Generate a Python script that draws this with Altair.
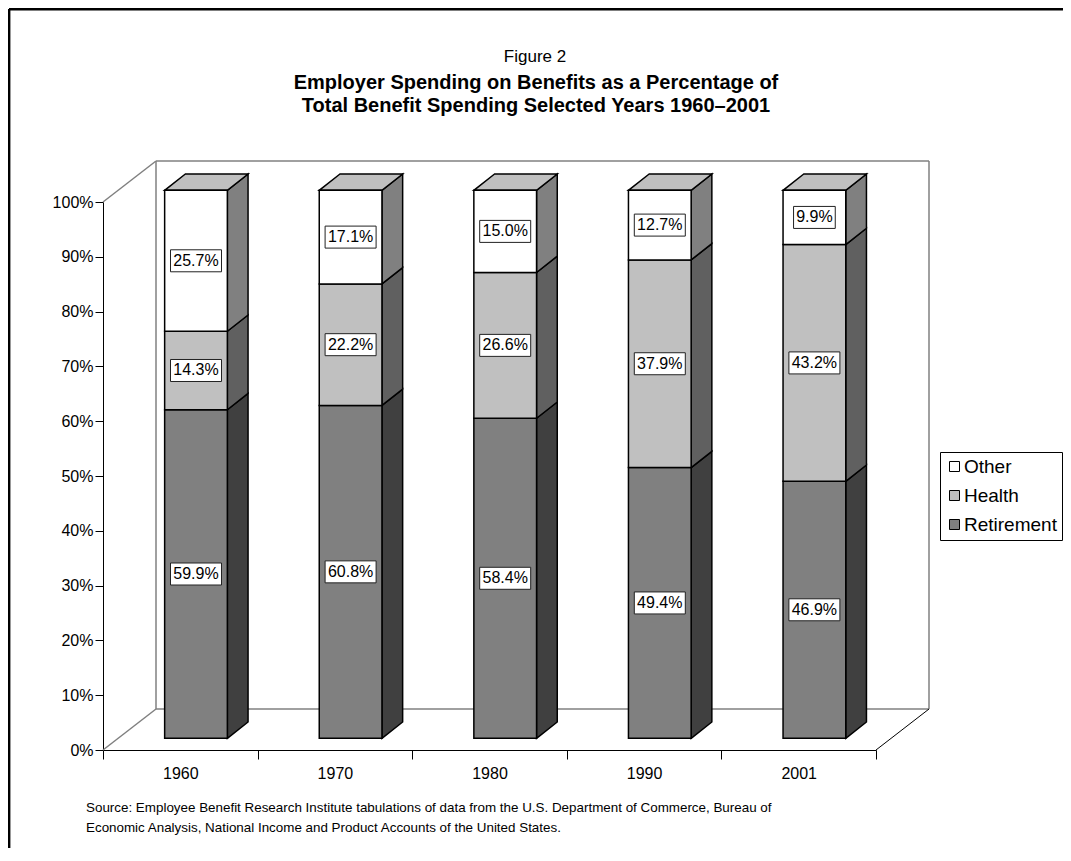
import altair as alt
import pandas as pd
import json

# ---------------- data ----------------
years = ["1960", "1970", "1980", "1990", "2001"]
segments = ["Retirement", "Health", "Other"]          # bottom -> top
retirement = [59.9, 60.8, 58.4, 49.4, 46.9]
health = [14.3, 22.2, 26.6, 37.9, 43.2]
other = [25.7, 17.1, 15.0, 12.7, 9.9]
y_ticks = list(range(0, 101, 10))
legend_order = ["Other", "Health", "Retirement"]
title_lines = [
    "Figure 2",
    "Employer Spending on Benefits as a Percentage of",
    "Total Benefit Spending Selected Years 1960\u20132001",
]
source_lines = [
    "Source: Employee Benefit Research Institute tabulations of data from the U.S. Department of Commerce, Bureau of",
    "Economic Analysis, National Income and Product Accounts of the United States.",
]

# ---------------- geometry (pixels -> data units) ----------------
W, H = 773, 548
N = len(years)
PXX = W / N          # px per category
PXY = H / 100.0      # px per percent
FX, FY = 15.7 / PXX, 11.7 / PXY      # front face shift (depth position)
HALF = 31.35 / PXX                    # half width of bar front
BX, BY = 20.7 / PXX, 16.3 / PXY       # bar depth
WX, WY = 53.0 / PXX, 41.0 / PXY       # wall depth

FONT = "Liberation Sans"
front_colors = {"Other": "#ffffff", "Health": "#c0c0c0", "Retirement": "#808080"}
side_colors = {"Other": "#808080", "Health": "#606060", "Retirement": "#404040"}

series = {"Retirement": retirement, "Health": health, "Other": other}

front_rows, side_rows, top_rows = [], [], []
for i, yr in enumerate(years):
    vals = [series[s][i] for s in segments]
    total = sum(vals)
    lo = 0.0
    c = i + 0.5 + FX
    xl, xr = c - HALF, c + HALF
    for s, v in zip(segments, vals):
        hi = lo + v / total * 100.0
        label = f"{v:.1f}%"
        bw = (9.3 * len(label) + 4.5) / PXX
        bh = 22.0 / PXY
        ym = (lo + hi) / 2 + FY
        front_rows.append(dict(year=yr, segment=s, x=xl, x2=xr, y=lo + FY, y2=hi + FY,
                               label=label, cx=c, cy=ym,
                               bx0=c - bw / 2, bx1=c + bw / 2, by0=ym - bh / 2, by1=ym + bh / 2))
        gid = f"{yr}-{s}"
        side_rows.append(dict(gid=gid, segment=s, x=xr, y=lo + FY, y2=hi + FY))
        side_rows.append(dict(gid=gid, segment=s, x=xr + BX, y=lo + FY + BY, y2=hi + FY + BY))
        lo = hi
    top_rows.append(dict(year=yr, y=lo + FY, x=xl, x2=xr))
    top_rows.append(dict(year=yr, y=lo + FY + BY, x=xl + BX, x2=xr + BX))

front = pd.DataFrame(front_rows)
sides = pd.DataFrame(side_rows)
tops = pd.DataFrame(top_rows)

walls_gray = pd.DataFrame([
    dict(x=0, y=100, x2=WX, y2=100 + WY),
    dict(x=WX, y=100 + WY, x2=N + WX, y2=100 + WY),
    dict(x=N + WX, y=100 + WY, x2=N + WX, y2=WY),
    dict(x=WX, y=WY, x2=N + WX, y2=WY),
    dict(x=WX, y=WY, x2=WX, y2=100 + WY),
    dict(x=0, y=0, x2=WX, y2=WY),
])
walls_black = pd.DataFrame([dict(x=N, y=0, x2=N + WX, y2=WY)])

xs = alt.Scale(domain=[0, N], nice=False, zero=False)
ys = alt.Scale(domain=[0, 100], nice=False, zero=False)

x_vals = [k * 0.5 for k in range(2 * N + 1)]
x_label_expr = "datum.value % 1 == 0.5 ? " + json.dumps(years) + "[floor(datum.value)] : ''"

x_axis = alt.Axis(values=x_vals, labelExpr=x_label_expr, title=None, grid=False,
                  tickSize=9, labelPadding=6, labelFontSize=16, labelFont=FONT,
                  labelColor="black", domainColor="black", tickColor="black",
                  labelOverlap=False, labelFlush=False, labelBound=False,
                  tickOpacity={"condition": {"test": "datum.value % 1 != 0", "value": 0}, "value": 1})
y_axis = alt.Axis(values=y_ticks, labelExpr="datum.value + '%'", title=None, grid=False,
                  tickSize=8, labelPadding=2, labelFontSize=16, labelFont=FONT,
                  labelColor="black", domainColor="black", tickColor="black",
                  labelOverlap=False, labelFlush=False)


def X(field, **kw):
    return alt.X(field, scale=xs, axis=x_axis, **kw)


def Y(field, **kw):
    return alt.Y(field, scale=ys, axis=y_axis, **kw)


side_expr = json.dumps(side_colors) + "[datum.segment]"

# walls
wall_g = alt.Chart(walls_gray).mark_rule(color="#808080", strokeWidth=1.5).encode(
    x=X("x:Q"), y=Y("y:Q"), x2="x2:Q", y2="y2:Q")
wall_b = alt.Chart(walls_black).mark_rule(color="black", strokeWidth=1).encode(
    x=X("x:Q"), y=Y("y:Q"), x2="x2:Q", y2="y2:Q")

# side faces
side_layer = alt.Chart(sides).transform_calculate(sidefill=side_expr).mark_area(
    orient="vertical", stroke="black", strokeWidth=1.5, opacity=1, strokeJoin="miter").encode(
    x=X("x:Q"),
    y=Y("y:Q", stack=None),
    y2="y2:Q",
    detail="gid:N",
    fill=alt.Fill("sidefill:N", scale=None),
)

# top faces
top_layer = alt.Chart(tops).mark_area(orient="horizontal", stroke="black", strokeWidth=1.5,
                                      fill="#c0c0c0", opacity=1, strokeJoin="miter").encode(
    y=Y("y:Q"),
    x=X("x:Q", stack=None),
    x2="x2:Q",
    detail="year:N",
)

# front faces
front_layer = alt.Chart(front).mark_rect(stroke="black", strokeWidth=1.5, opacity=1).encode(
    x=X("x:Q"), x2="x2:Q",
    y=Y("y:Q"), y2="y2:Q",
    color=alt.Color("segment:N",
                    scale=alt.Scale(domain=legend_order, range=[front_colors[s] for s in legend_order]),
                    legend=alt.Legend(title=None, orient="none", legendX=837, legendY=250,
                                      symbolType="square", symbolSize=100,
                                      symbolStrokeColor="black", symbolStrokeWidth=1,
                                      labelFontSize=19, labelFont=FONT, labelColor="black",
                                      labelOffset=0, rowPadding=9, padding=5,
                                      strokeColor="black", fillColor="white")),
)

# label boxes + text
box_layer = alt.Chart(front).mark_rect(fill="white", stroke="#222222", strokeWidth=1).encode(
    x=X("bx0:Q"), x2="bx1:Q",
    y=Y("by0:Q"), y2="by1:Q",
)
text_layer = alt.Chart(front).mark_text(font=FONT, fontSize=16, color="black",
                                        align="center", baseline="middle").encode(
    x=X("cx:Q"),
    y=Y("cy:Q"),
    text="label:N",
)


def free_text(txt, px, py, size, weight="normal", align="center"):
    return alt.Chart(pd.DataFrame({"t": [txt]})).mark_text(
        font=FONT, fontSize=size, fontWeight=weight, color="black",
        align=align, baseline="alphabetic").encode(
        text="t:N", x=alt.value(px - 103), y=alt.value(py - 202))


t0 = free_text(title_lines[0], 535, 62, 17)
t1 = free_text(title_lines[1], 536, 89, 20, "bold")
t2 = free_text(title_lines[2], 536, 112, 20, "bold")
s0 = free_text(source_lines[0], 86, 812, 13.4, align="left")
s1 = free_text(source_lines[1], 86, 832, 13.4, align="left")

frame_df = pd.DataFrame({"k": [0]})
frame_v = alt.Chart(frame_df).mark_rule(color="black", strokeWidth=2.8).encode(
    x=alt.value(9 - 103), y=alt.value(9 - 202), y2=alt.value(H + 150))
frame_h = alt.Chart(frame_df).mark_rule(color="black", strokeWidth=2.8).encode(
    x=alt.value(9 - 103), x2=alt.value(W + 250), y=alt.value(9 - 202))

chart = alt.layer(
    wall_g, wall_b, side_layer, top_layer, front_layer, box_layer, text_layer,
    t0, t1, t2, s0, s1, frame_v, frame_h,
).properties(
    width=W, height=H,
    autosize=alt.AutoSizeParams(type="none"),
    padding={"left": 95, "top": 194, "right": 187, "bottom": 98},
    background="white",
).configure(font=FONT).configure_view(strokeWidth=0)

chart.save("out.html", embed_options={"renderer": "svg", "actions": False})
